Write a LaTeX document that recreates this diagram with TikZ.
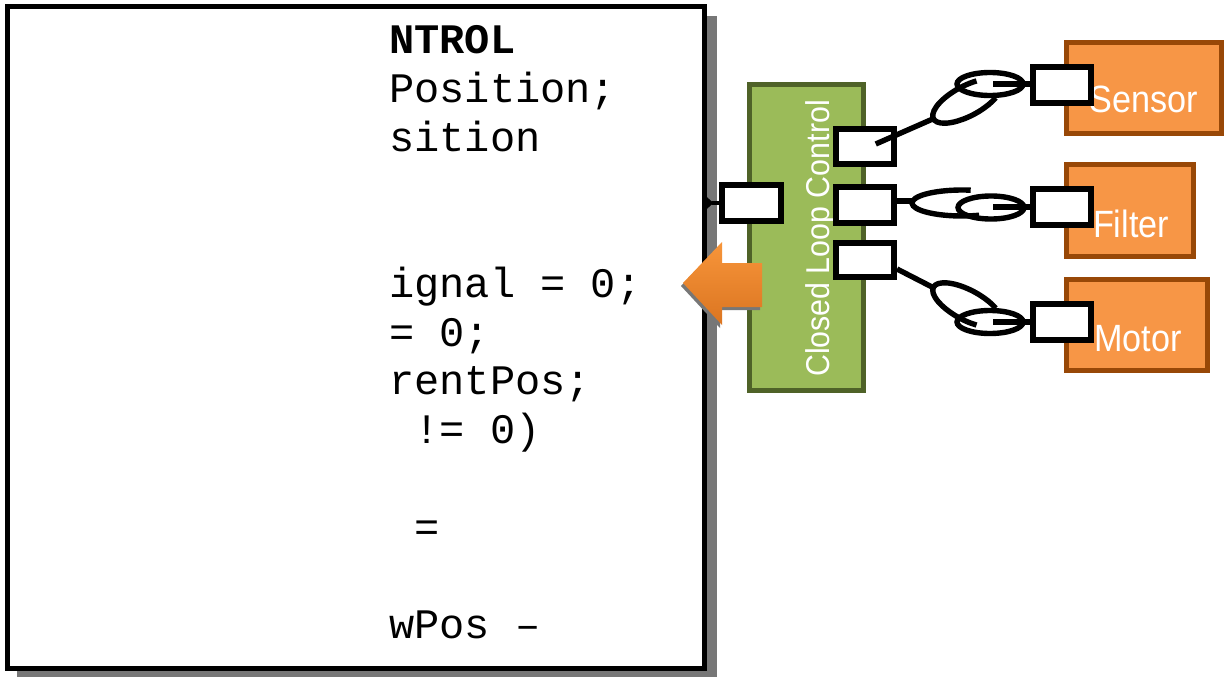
\documentclass[tikz,border=0pt]{standalone}
\usepackage{fontspec}
\setmainfont{Liberation Sans}
\newfontfamily\codefont{Liberation Mono}
\newfontfamily\labelfont[FakeStretch=0.9]{Liberation Sans}
\newfontfamily\vlabelfont[FakeStretch=0.92]{Liberation Sans}
\usetikzlibrary{arrows.meta,calc}
\definecolor{grfill}{HTML}{9BBB59}
\definecolor{grline}{HTML}{4F6228}
\definecolor{orfill}{HTML}{F79646}
\definecolor{orline}{HTML}{984807}
\definecolor{arrtop}{HTML}{F7953A}
\definecolor{arrbot}{HTML}{DB7521}
\definecolor{shad}{HTML}{777777}
\begin{document}
\begin{tikzpicture}[x=1pt,y=-1pt,
  port/.style={draw=black,line width=6pt,fill=white,inner sep=0pt,minimum width=58.5pt,minimum height=36pt},
  conn/.style={draw=black,line width=5.4pt},
  codeline/.style={anchor=base west,inner sep=0pt,font={\codefont\fontsize{42}{48}\selectfont}},
  orbox/.style={draw=orline,fill=orfill,line width=5pt,inner sep=0pt},
  orlabel/.style={anchor=base,inner sep=0pt,text=white,font={\labelfont\fontsize{38}{38}\selectfont}}]
\useasboundingbox (0,0) rectangle (1224,677);
\fill[white] (0,0) rectangle (1224,677);
% code panel with shadow
\fill[shad] (17,16) rectangle (717,677);
\node[draw=black,line width=5pt,fill=white,inner sep=0pt,minimum width=696.5pt,minimum height=661pt] (code) at (355.75,337.5) {};
\node[codeline] (c0) at (389,54) {\bfseries NTROL};
\node[codeline] (c1) at (389,102.7) {Position;};
\node[codeline] (c2) at (389,151.4) {sition};
\node[codeline] (c5) at (389,297.5) {ignal = 0;};
\node[codeline] (c6) at (389,346.2) {= 0;};
\node[codeline] (c7) at (389,394.9) {rentPos;};
\node[codeline] (c8) at (414.2,443.6) {!= 0)};
\node[codeline] (c10) at (414.2,541) {=};
\node[codeline] (c12) at (389,638.4) {wPos –};
% closed loop control block
\node[draw=grline,fill=grfill,line width=5pt,inner sep=0pt,minimum width=114pt,minimum height=305.5pt] (clc) at (806,237.75) {};
\node[rotate=90,anchor=base,inner sep=0pt,text=white,font={\vlabelfont\fontsize{33}{33}\selectfont}] (clclabel) at (829,238.5) {Closed Loop Control};
% orange blocks
\node[orbox,minimum width=155pt,minimum height=90.5pt] (sensor) at (1144,87.75) {};
\node[orbox,minimum width=127pt,minimum height=91.5pt] (filter) at (1130,210.25) {};
\node[orbox,minimum width=141pt,minimum height=91pt] (motor) at (1137,325) {};
\node[orlabel] (sensorlabel) at (1144,113) {Sensor};
\node[orlabel] (filterlabel) at (1131,237) {Filter};
\node[orlabel] (motorlabel) at (1138,351) {Motor};
% ports
\node[port] (p0) at (751.5,203) {};
\node[port,minimum height=34.5pt] (g1) at (864.75,146.5) {};
\node[port] (g2) at (864.75,205) {};
\node[port,minimum height=34pt] (g3) at (864.75,260) {};
\node[port] (o1) at (1062.2,84.9) {};
\node[port] (o2) at (1062.2,207) {};
\node[port] (o3) at (1062.2,322) {};
% connector from panel port
\draw[line width=3.5pt,-{Triangle[reversed,length=7pt,width=12pt]}] (p0.west) -- (code.east |- p0.west);
% sensor connector
\coordinate (s1) at (935,118);
\coordinate (s2) at (993,84);
\draw[conn] ([xshift=11pt,yshift=2.5pt]g1.center) -- (s1);
\begin{scope}[shift={(967,101)},rotate=28]
\draw[conn] (62:38pt and 15pt) arc[start angle=62,end angle=315,x radius=38pt,y radius=15pt];
\end{scope}
\draw[conn] (990,84) ellipse [x radius=33pt,y radius=11.5pt];
\draw[conn] (s2) -- (o1.west |- s2);
% filter connector
\coordinate (f1) at (912,201);
\coordinate (f2) at (993,207);
\draw[conn] ([yshift=4pt]g2.east) -- (f1);
\draw[conn] (970.7,190.2) arc[start angle=80,end angle=290,x radius=50pt,y radius=13pt];
\draw[conn] (991,207.5) ellipse [x radius=33pt,y radius=11.5pt];
\draw[conn] (f2) -- (o2.west);
% motor connector
\coordinate (m1) at (934,288);
\coordinate (m2) at (993,322);
\draw[conn] ([yshift=-9pt]g3.east) -- (m1);
\begin{scope}[shift={(967,305)},rotate=-28]
\draw[conn] (45:38pt and 15pt) arc[start angle=45,end angle=298,x radius=38pt,y radius=15pt];
\end{scope}
\draw[conn] (990,322) ellipse [x radius=33pt,y radius=11.5pt];
\draw[conn] (m2) -- (o3.west);
% orange block arrow
\fill[shad,shift={(-2pt,-3pt)}] (683,283) -- (722,242) -- (722,263) -- (762,263) -- (762,307) -- (722,307) -- (722,325) -- cycle;
\shade[top color=arrtop,bottom color=arrbot] (683,283) -- (722,242) -- (722,263) -- (762,263) -- (762,307) -- (722,307) -- (722,325) -- cycle;
\end{tikzpicture}
\end{document}
